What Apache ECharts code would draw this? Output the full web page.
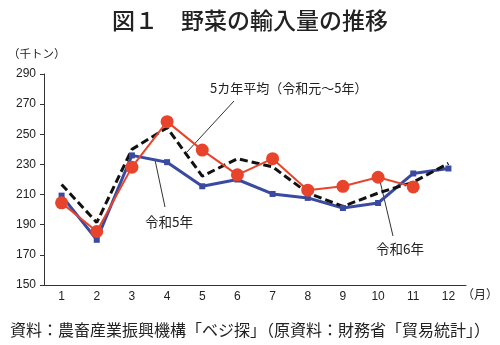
<!DOCTYPE html>
<html><head><meta charset="utf-8">
<script src="https://cdn.jsdelivr.net/npm/echarts@6/dist/echarts.min.js"></script>
<style>html,body{margin:0;padding:0;background:#fff}#c{width:500px;height:345px}</style>
</head><body><div id="c"></div>
<script>
const months = ['1','2','3','4','5','6','7','8','9','10','11','12'];
const yTicks = [150,170,190,210,230,250,270,290];
const r5 = [209.3,180.0,236.0,231.5,215.5,220.0,210.4,207.8,201.1,204.4,224.0,227.3];
const r6 = [204.5,185.5,228.2,258.4,239.5,223.1,233.8,212.9,215.5,221.5,215.1,null];
const avg5 = [216.7,191.5,240.0,254.4,222.2,233.8,228.4,211.1,202.2,211.0,218.2,230.7];

const JP = '"Noto Sans CJK JP", sans-serif';
const NUM = '"Liberation Sans", Arial, sans-serif';
const chart = echarts.init(document.getElementById('c'), null, {renderer:'canvas'});
chart.setOption({
  animation:false,
  backgroundColor:'#fff',
  grid:{left:44, right:34, top:74, bottom:60},
  xAxis:{type:'category', data:months, boundaryGap:true,
    axisLine:{lineStyle:{color:'#333', width:1}},
    axisTick:{inside:true, length:4, lineStyle:{color:'#333'}},
    axisLabel:{color:'#222', fontFamily:NUM, fontSize:12, margin:6}},
  yAxis:{type:'value', min:yTicks[0], max:yTicks[yTicks.length-1], interval:20,
    splitLine:{show:false},
    axisLine:{show:true, lineStyle:{color:'#333', width:1}},
    axisTick:{show:true, length:4, lineStyle:{color:'#333'}},
    axisLabel:{color:'#222', fontFamily:NUM, fontSize:12, margin:8}},
  series:[
    {name:'令和5年', type:'line', data:r5, symbol:'rect', symbolSize:6,
     lineStyle:{color:'#3a4aa0', width:3}, itemStyle:{color:'#3a4aa0'}},
    {name:'5カ年平均', type:'line', data:avg5, symbol:'none',
     lineStyle:{color:'#111', width:3, type:[8,4]}},
    {name:'令和6年', type:'line', data:r6, symbol:'circle', symbolSize:13,
     lineStyle:{color:'#e8442c', width:2}, itemStyle:{color:'#e8442c'}}
  ],
  graphic:[
    {type:'text', left:'center', top:9, style:{text:'図１　野菜の輸入量の推移', font:'500 23px '+JP, fill:'#222'}},
    {type:'text', x:8, y:48, style:{text:'（千トン）', font:'11.5px '+JP, fill:'#222'}},
    {type:'text', x:462, y:288, style:{text:'（月）', font:'12px '+JP, fill:'#222'}},
    {type:'text', x:250, y:322, style:{text:'資料：農畜産業振興機構「ベジ探」（原資料：財務省「貿易統計」）', font:'16px '+JP, fill:'#222', align:'center'}},
    {type:'text', x:210, y:82, style:{text:'5カ年平均（令和元～5年）', font:'13px '+JP, fill:'#222'}},
    {type:'text', x:145, y:215, style:{text:'令和5年', font:'13.5px '+JP, fill:'#222'}},
    {type:'text', x:376, y:242, style:{text:'令和6年', font:'13.5px '+JP, fill:'#222'}},
    {type:'line', shape:{x1:234,y1:101,x2:187,y2:152}, style:{stroke:'#333', lineWidth:1}},
    {type:'line', shape:{x1:155,y1:160,x2:165,y2:207}, style:{stroke:'#333', lineWidth:1}},
    {type:'line', shape:{x1:380,y1:181,x2:393,y2:236}, style:{stroke:'#333', lineWidth:1}}
  ]
});
</script></body></html>
